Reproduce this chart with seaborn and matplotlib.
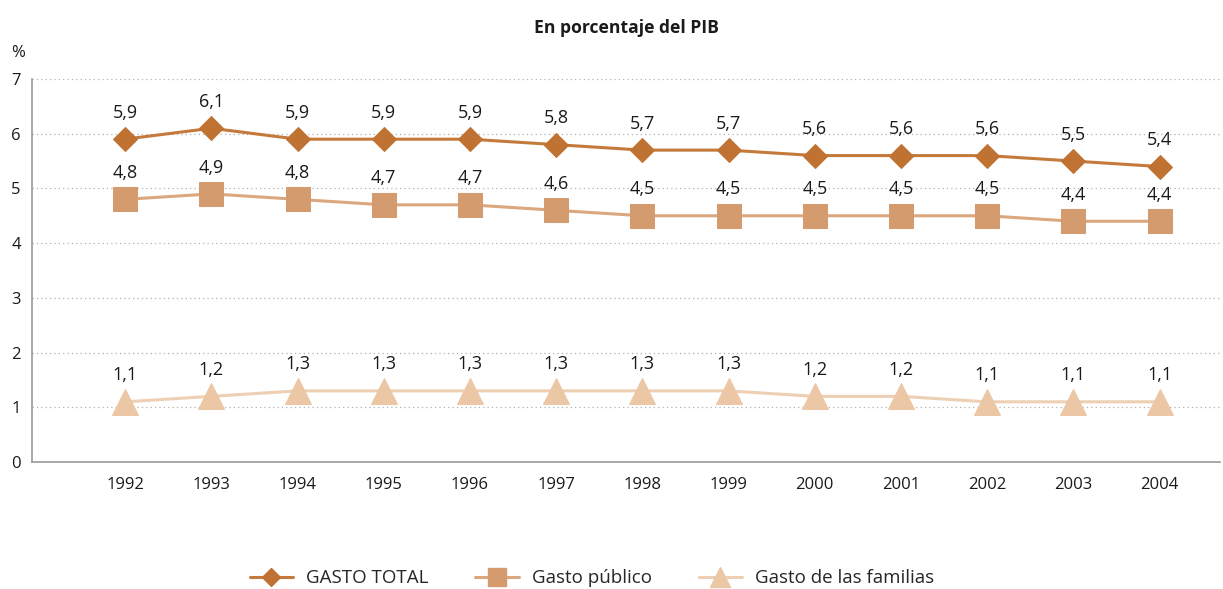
import matplotlib
matplotlib.use("Agg")

import matplotlib.pyplot as plt
from matplotlib.lines import Line2D
import pandas as pd
import seaborn as sns

# ------------------------------------------------------------------------------
# Data
# ------------------------------------------------------------------------------
years = ["1992", "1993", "1994", "1995", "1996", "1997", "1998",
         "1999", "2000", "2001", "2002", "2003", "2004"]
gasto_total = [5.9, 6.1, 5.9, 5.9, 5.9, 5.8, 5.7, 5.7, 5.6, 5.6, 5.6, 5.5, 5.4]
gasto_publico = [4.8, 4.9, 4.8, 4.7, 4.7, 4.6, 4.5, 4.5, 4.5, 4.5, 4.5, 4.4, 4.4]
gasto_familias = [1.1, 1.2, 1.3, 1.3, 1.3, 1.3, 1.3, 1.3, 1.2, 1.2, 1.1, 1.1, 1.1]

series_names = ["GASTO TOTAL", "Gasto público", "Gasto de las familias"]
y_ticks = [0, 1, 2, 3, 4, 5, 6, 7]

sns.set_style("white")
plt.rcParams["font.family"] = ["Open Sans", "DejaVu Sans"]
TEXT = "#1a1a1a"

# marker, marker size, line colour, marker colour
styles = {
    "GASTO TOTAL": ("D", 12.5, "#C47A3A", "#C07233"),
    "Gasto público": ("s", 17, "#DBA77E", "#D49B6E"),
    "Gasto de las familias": ("^", 19, "#EDCFB4", "#EBC7A6"),
}

df = pd.DataFrame({
    "idx": list(range(len(years))) * 3,
    "value": gasto_total + gasto_publico + gasto_familias,
    "serie": [s for s in series_names for _ in years],
})

fig = plt.figure(figsize=(12.23, 5.89), dpi=100)
ax = fig.add_axes([0.0262, 0.2156, 0.9713, 0.6503])

for name in series_names:
    marker, ms, lc, mc = styles[name]
    sub = df[df["serie"] == name]
    sns.lineplot(data=sub, x="idx", y="value", ax=ax, color=lc, linewidth=2.2,
                 marker=marker, markersize=ms, markerfacecolor=mc,
                 markeredgecolor=mc, legend=False)
    for x, v in zip(sub["idx"], sub["value"]):
        ax.annotate(f"{v:.1f}".replace(".", ","), (x, v), xytext=(0, 19),
                    textcoords="offset points", ha="center", va="center",
                    fontsize=13, color=TEXT)

ax.set_xlim(-1.08, 12.7)
ax.set_ylim(0, 7)
ax.set_yticks(y_ticks)
ax.set_xticks(range(len(years)))
ax.set_xticklabels(years)
ax.tick_params(axis="both", length=0, labelsize=12, colors=TEXT)
ax.tick_params(axis="x", pad=11)
ax.tick_params(axis="y", pad=8)
ax.set_xlabel("")
ax.set_ylabel("")

for y in y_ticks[1:]:
    ax.axhline(y, color="#b0b0b0", linestyle=(0, (1, 2.5)), linewidth=0.9, zorder=0)

for side in ["top", "right"]:
    ax.spines[side].set_visible(False)
for side in ["left", "bottom"]:
    ax.spines[side].set_color("#9a9a9a")
    ax.spines[side].set_linewidth(1.2)

fig.text(0.512, 0.953, "En porcentaje del PIB", ha="center", va="center",
         fontsize=12.6, fontweight="bold", color=TEXT)
fig.text(0.015, 0.91, "%", ha="center", va="center", fontsize=12, color=TEXT)

handles = []
for name in series_names:
    marker, ms, lc, mc = styles[name]
    handles.append(Line2D([0], [0], color=lc, linewidth=2.2, marker=marker,
                          markersize=ms * 0.75, markerfacecolor=mc,
                          markeredgecolor=mc))
fig.legend(handles, series_names, loc="center", bbox_to_anchor=(0.484, 0.018),
           ncol=3, frameon=False, fontsize=13.5, handlelength=2.3,
           columnspacing=2.5, handletextpad=0.7)

fig.savefig("out.png", dpi=100)
plt.close(fig)
